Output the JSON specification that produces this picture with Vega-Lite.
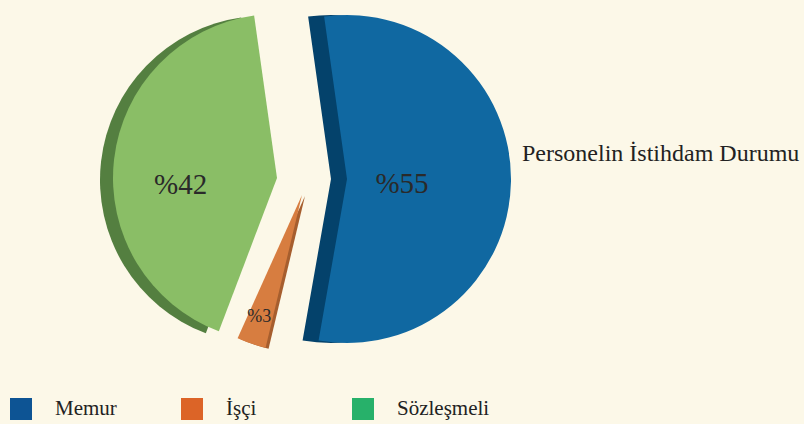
{
  "$schema": "https://vega.github.io/schema/vega-lite/v6.json",
  "width": 624,
  "height": 360,
  "autosize": {"type": "none"},
  "padding": {"left": 0, "top": 0, "right": 180, "bottom": 64},
  "background": "#fcf8e8",
  "config": {"view": {"stroke": null}, "font": "Liberation Serif"},
  "title": {
    "text": "Personelin İstihdam Durumu",
    "orient": "top",
    "anchor": "start",
    "frame": "group",
    "dx": 522,
    "dy": 185,
    "offset": 0,
    "baseline": "alphabetic",
    "font": "Liberation Serif",
    "fontSize": 24,
    "fontWeight": "normal",
    "color": "#222222"
  },
  "data": {
    "values": [
      {"durum": "Memur", "yuzde": 55, "etiket": "%55", "sira": 1},
      {"durum": "İşçi", "yuzde": 3, "etiket": "%3", "sira": 2},
      {"durum": "Sözleşmeli", "yuzde": 42, "etiket": "%42", "sira": 3}
    ]
  },
  "layer": [
    {
      "mark": {"type": "point", "shape": "square", "filled": true, "size": 0},
      "encoding": {
        "color": {
          "field": "durum", "type": "nominal",
          "scale": {"domain": ["Memur", "İşçi", "Sözleşmeli"], "range": ["#0d5494", "#dc6427", "#27b16a"]},
          "legend": {
            "title": null, "orient": "none", "legendX": 10, "legendY": 398,
            "direction": "horizontal", "columns": 3, "gridAlign": "all", "columnPadding": 33,
            "symbolType": "square", "symbolSize": 484, "symbolOpacity": 1, "symbolStrokeWidth": 0,
            "labelFont": "Liberation Serif", "labelFontSize": 21, "labelColor": "#222222",
            "labelOffset": 23, "labelLimit": 200, "labelBaseline": "middle", "labelOffset": 23
          }
        }
      }
    },
    {
      "mark": {"type": "arc", "outerRadius": 164, "xOffset": -48, "yOffset": 0, "fill": "#547f40"},
      "encoding": {
        "theta": {"field": "yuzde", "type": "quantitative", "stack": true, "scale": {"range": [-0.14, 6.1432]}},
        "order": {"field": "sira", "type": "quantitative"},
        "detail": {"field": "durum", "type": "nominal"},
        "fillOpacity": {"condition": {"test": "datum.durum === 'Sözleşmeli'", "value": 1}, "value": 0}
      }
    },
    {
      "mark": {"type": "arc", "outerRadius": 164, "xOffset": 19, "yOffset": -1, "fill": "#04426b"},
      "encoding": {
        "theta": {"field": "yuzde", "type": "quantitative", "stack": true, "scale": {"range": [-0.14, 6.1432]}},
        "order": {"field": "sira", "type": "quantitative"},
        "detail": {"field": "durum", "type": "nominal"},
        "fillOpacity": {"condition": {"test": "datum.durum === 'Memur'", "value": 1}, "value": 0}
      }
    },
    {
      "mark": {"type": "arc", "outerRadius": 157, "xOffset": -7, "yOffset": 16, "thetaOffset": 0.06, "theta2Offset": 0.06, "fill": "#a65e2e"},
      "encoding": {
        "theta": {"field": "yuzde", "type": "quantitative", "stack": true, "scale": {"range": [-0.14, 6.1432]}},
        "order": {"field": "sira", "type": "quantitative"},
        "detail": {"field": "durum", "type": "nominal"},
        "fillOpacity": {"condition": {"test": "datum.durum === 'İşçi'", "value": 1}, "value": 0}
      }
    },
    {
      "mark": {"type": "arc", "outerRadius": 164, "xOffset": -35, "yOffset": -2, "fill": "#8abe66"},
      "encoding": {
        "theta": {"field": "yuzde", "type": "quantitative", "stack": true, "scale": {"range": [-0.14, 6.1432]}},
        "order": {"field": "sira", "type": "quantitative"},
        "detail": {"field": "durum", "type": "nominal"},
        "fillOpacity": {"condition": {"test": "datum.durum === 'Sözleşmeli'", "value": 1}, "value": 0}
      }
    },
    {
      "mark": {"type": "arc", "outerRadius": 164, "xOffset": 35, "yOffset": -1, "fill": "#1068a1"},
      "encoding": {
        "theta": {"field": "yuzde", "type": "quantitative", "stack": true, "scale": {"range": [-0.14, 6.1432]}},
        "order": {"field": "sira", "type": "quantitative"},
        "detail": {"field": "durum", "type": "nominal"},
        "fillOpacity": {"condition": {"test": "datum.durum === 'Memur'", "value": 1}, "value": 0}
      }
    },
    {
      "mark": {"type": "arc", "outerRadius": 157, "xOffset": -10, "yOffset": 15, "thetaOffset": 0.06, "theta2Offset": 0.06, "fill": "#d77d40"},
      "encoding": {
        "theta": {"field": "yuzde", "type": "quantitative", "stack": true, "scale": {"range": [-0.14, 6.1432]}},
        "order": {"field": "sira", "type": "quantitative"},
        "detail": {"field": "durum", "type": "nominal"},
        "fillOpacity": {"condition": {"test": "datum.durum === 'İşçi'", "value": 1}, "value": 0}
      }
    },
    {
      "mark": {"type": "text", "radius": 55, "xOffset": 35, "yOffset": 3, "fontSize": 29, "color": "#2a2a2a", "font": "Liberation Serif"},
      "encoding": {
        "theta": {"field": "yuzde", "type": "quantitative", "stack": true, "scale": {"range": [-0.14, 6.1432]}},
        "order": {"field": "sira", "type": "quantitative"},
        "detail": {"field": "durum", "type": "nominal"},
        "text": {"field": "etiket", "type": "nominal"},
        "opacity": {"condition": {"test": "datum.durum === 'Memur'", "value": 1}, "value": 0}
      }
    },
    {
      "mark": {"type": "text", "radius": 97, "xOffset": -35, "yOffset": 16, "fontSize": 29, "color": "#2a2a2a", "font": "Liberation Serif"},
      "encoding": {
        "theta": {"field": "yuzde", "type": "quantitative", "stack": true, "scale": {"range": [-0.14, 6.1432]}},
        "order": {"field": "sira", "type": "quantitative"},
        "detail": {"field": "durum", "type": "nominal"},
        "text": {"field": "etiket", "type": "nominal"},
        "opacity": {"condition": {"test": "datum.durum === 'Sözleşmeli'", "value": 1}, "value": 0}
      }
    },
    {
      "mark": {"type": "text", "radius": 127, "xOffset": -19, "yOffset": 15, "fontSize": 18, "color": "#2a2a2a", "font": "Liberation Serif"},
      "encoding": {
        "theta": {"field": "yuzde", "type": "quantitative", "stack": true, "scale": {"range": [-0.14, 6.1432]}},
        "order": {"field": "sira", "type": "quantitative"},
        "detail": {"field": "durum", "type": "nominal"},
        "text": {"field": "etiket", "type": "nominal"},
        "opacity": {"condition": {"test": "datum.durum === 'İşçi'", "value": 1}, "value": 0}
      }
    }
  ]
}
